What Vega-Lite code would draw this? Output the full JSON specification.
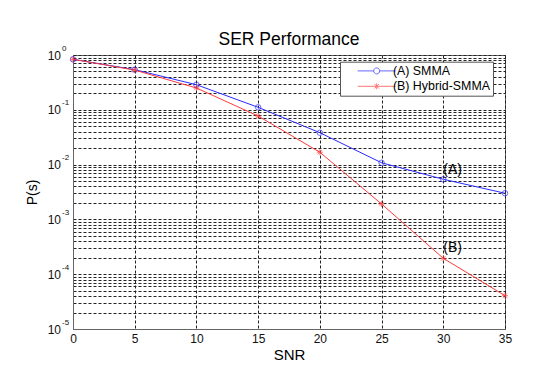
{
  "$schema": "https://vega.github.io/schema/vega-lite/v6.json",
  "width": 432,
  "height": 274,
  "autosize": {"type": "none"},
  "padding": {"left": 73, "top": 55, "right": 38, "bottom": 38},
  "background": "white",
  "title": {"text": "SER Performance", "font": "Liberation Sans", "fontSize": 17.5, "fontWeight": "normal", "color": "#000", "anchor": "middle", "baseline": "alphabetic", "offset": 6, "dy": 24},
  "config": {"view": {"stroke": "#666", "strokeWidth": 1}},
  "datasets": {
    "ser": [
      {"series": "(A) SMMA", "snr": 0, "ps": 0.835},
      {"series": "(A) SMMA", "snr": 5, "ps": 0.54},
      {"series": "(A) SMMA", "snr": 10, "ps": 0.287},
      {"series": "(A) SMMA", "snr": 15, "ps": 0.111},
      {"series": "(A) SMMA", "snr": 20, "ps": 0.0382},
      {"series": "(A) SMMA", "snr": 25, "ps": 0.0108},
      {"series": "(A) SMMA", "snr": 30, "ps": 0.0054},
      {"series": "(A) SMMA", "snr": 35, "ps": 0.003},
      {"series": "(B) Hybrid-SMMA", "snr": 0, "ps": 0.835},
      {"series": "(B) Hybrid-SMMA", "snr": 5, "ps": 0.53},
      {"series": "(B) Hybrid-SMMA", "snr": 10, "ps": 0.25},
      {"series": "(B) Hybrid-SMMA", "snr": 15, "ps": 0.077},
      {"series": "(B) Hybrid-SMMA", "snr": 20, "ps": 0.0168},
      {"series": "(B) Hybrid-SMMA", "snr": 25, "ps": 0.00191},
      {"series": "(B) Hybrid-SMMA", "snr": 30, "ps": 0.000195},
      {"series": "(B) Hybrid-SMMA", "snr": 35, "ps": 0.0000405}
    ],
    "notes": [
      {"label": "(A)", "snr": 30, "ps": 0.0079},
      {"label": "(B)", "snr": 30, "ps": 0.0003}
    ]
  },
  "resolve": {"axis": {"y": "independent"}},
  "layer": [
    {
      "data": {"name": "ser"},
      "mark": {"type": "line", "strokeWidth": 1, "clip": true},
      "encoding": {
        "x": {
          "field": "snr", "type": "quantitative",
          "scale": {"domain": [0, 35], "nice": false, "zero": false},
          "axis": {
            "title": "SNR", "values": [0, 5, 10, 15, 20, 25, 30, 35],
            "grid": true, "gridColor": "#222", "gridDash": [3, 2], "gridOpacity": 1, "gridWidth": 1,
            "ticks": false, "tickSize": 0, "labelPadding": 4, "labelFlush": false,
            "labelFont": "Liberation Sans", "labelFontSize": 12, "labelColor": "#111",
            "titleFont": "Liberation Sans", "titleFontSize": 15, "titleFontWeight": "normal", "titleColor": "#000", "titlePadding": 3,
            "domainColor": "#666", "domainWidth": 1
          }
        },
        "y": {
          "field": "ps", "type": "quantitative",
          "scale": {"type": "log", "domain": [0.00001, 1], "nice": false},
          "axis": {
            "orient": "left", "title": "P(s)",
            "values": [0.00001, 0.00002, 0.00003, 0.00004, 0.00005, 0.00006, 0.00007, 0.00008, 0.00009,
                       0.0001, 0.0002, 0.0003, 0.0004, 0.0005, 0.0006, 0.0007, 0.0008, 0.0009,
                       0.001, 0.002, 0.003, 0.004, 0.005, 0.006, 0.007, 0.008, 0.009,
                       0.01, 0.02, 0.03, 0.04, 0.05, 0.06, 0.07, 0.08, 0.09,
                       0.1, 0.2, 0.3, 0.4, 0.5, 0.6, 0.7, 0.8, 0.9, 1],
            "labelExpr": "abs(log(datum.value)/LN10 - round(log(datum.value)/LN10)) < 0.000001 ? '10' : ''",
            "grid": true, "gridColor": "#222", "gridDash": [3, 2], "gridOpacity": 1, "gridWidth": 1,
            "ticks": false, "tickSize": 0, "labelPadding": 12.5, "labelOverlap": false, "labelBound": false, "labelFlush": false,
            "labelFont": "Liberation Sans", "labelFontSize": 12, "labelColor": "#111", "labelAlign": "right", "labelBaseline": "middle",
            "titleFont": "Liberation Sans", "titleFontSize": 14, "titleFontWeight": "normal", "titleColor": "#000", "titlePadding": 8,
            "domainColor": "#666", "domainWidth": 1
          }
        },
        "color": {
          "field": "series", "type": "nominal",
          "scale": {"domain": ["(A) SMMA", "(B) Hybrid-SMMA"], "range": ["#2a2aff", "#ff3b3b"]}
        }
      }
    },
    {
      "data": {"name": "ser"},
      "transform": [{"filter": "datum.series == '(A) SMMA'"}],
      "mark": {"type": "point", "shape": "circle", "size": 30, "filled": false, "stroke": "#2a2aff", "strokeWidth": 1},
      "encoding": {
        "x": {"field": "snr", "type": "quantitative"},
        "y": {"field": "ps", "type": "quantitative", "axis": null}
      }
    },
    {
      "data": {"name": "ser"},
      "transform": [{"filter": "datum.series == '(B) Hybrid-SMMA'"}],
      "mark": {"type": "point", "shape": "M0,-1V1M-1,0H1M-0.72,-0.72L0.72,0.72M-0.72,0.72L0.72,-0.72", "size": 36, "filled": false, "stroke": "#ff3b3b", "strokeWidth": 1},
      "encoding": {
        "x": {"field": "snr", "type": "quantitative"},
        "y": {"field": "ps", "type": "quantitative", "axis": null}
      }
    },
    {
      "data": {"name": "ser"},
      "transform": [{"filter": "datum.snr < 0"}],
      "mark": {"type": "point", "filled": false, "strokeWidth": 1},
      "encoding": {
        "x": {"field": "snr", "type": "quantitative"},
        "y": {
          "field": "ps", "type": "quantitative",
          "axis": {
            "orient": "left", "title": null,
            "values": [0.00001, 0.0001, 0.001, 0.01, 0.1, 1],
            "labelExpr": "'' + round(log(datum.value)/LN10)",
            "grid": false, "ticks": false, "tickSize": 0, "domain": false,
            "labelPadding": 11.5, "labelOverlap": false, "labelBound": false, "labelFlush": false,
            "labelFont": "Liberation Sans", "labelFontSize": 8, "labelColor": "#111", "labelAlign": "left", "labelBaseline": "middle", "labelOffset": -7
          }
        },
        "color": {
          "field": "series", "type": "nominal",
          "legend": {
            "title": null, "orient": "none", "legendX": 267, "legendY": 6.7,
            "direction": "vertical",
            "fillColor": "white", "strokeColor": "#555", "padding": 3, "rowPadding": 2.4,
            "symbolSize": 36, "symbolStrokeWidth": 1, "symbolOffset": 27.5, "labelOffset": 10,
            "labelFont": "Liberation Sans", "labelFontSize": 12.4, "labelColor": "#000"
          }
        },
        "shape": {
          "field": "series", "type": "nominal",
          "scale": {"domain": ["(A) SMMA", "(B) Hybrid-SMMA"],
                    "range": ["M-6.33,0H-1M1,0H6.33M1,0A1,1 0 1 1 -1,0A1,1 0 1 1 1,0",
                              "M-6.33,0H6.33M0,-1V1M-0.72,-0.72L0.72,0.72M-0.72,0.72L0.72,-0.72"]},
          "legend": {
            "title": null, "orient": "none", "legendX": 267, "legendY": 6.7,
            "direction": "vertical",
            "fillColor": "white", "strokeColor": "#555", "padding": 3, "rowPadding": 2.4,
            "symbolSize": 36, "symbolStrokeWidth": 1, "symbolOffset": 27.5, "labelOffset": 10,
            "labelFont": "Liberation Sans", "labelFontSize": 12.4, "labelColor": "#000"
          }
        }
      }
    },
    {
      "data": {"name": "notes"},
      "mark": {"type": "text", "align": "left", "baseline": "middle", "font": "Liberation Sans", "fontSize": 14, "color": "#000"},
      "encoding": {
        "x": {"field": "snr", "type": "quantitative"},
        "y": {"field": "ps", "type": "quantitative", "axis": null},
        "text": {"field": "label"}
      }
    }
  ]
}
